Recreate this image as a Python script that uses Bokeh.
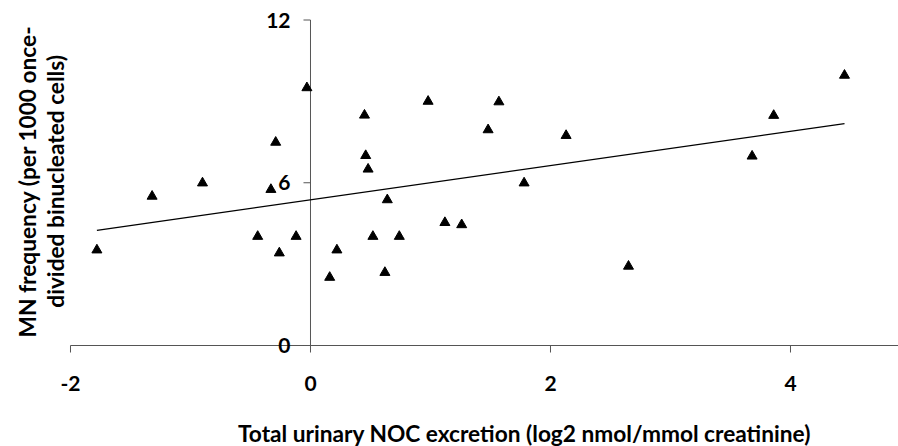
import numpy as np
from bokeh.plotting import figure
from bokeh.models import Range1d, Label
from bokeh.core.properties import value
from bokeh.embed import file_html
from bokeh.resources import INLINE

# Data
noc_log2 = [-1.78, -1.32, -0.90, -0.44, -0.33, -0.29, -0.26, -0.12, -0.03,
            0.16, 0.22, 0.45, 0.46, 0.48, 0.52, 0.62, 0.64, 0.74, 0.98,
            1.12, 1.26, 1.48, 1.57, 1.78, 2.13, 2.65, 3.68, 3.86, 4.45]
mn_freq = [3.52, 5.50, 5.99, 4.02, 5.75, 7.49, 3.41, 4.02, 9.50,
           2.51, 3.52, 8.49, 7.00, 6.50, 4.02, 2.69, 5.37, 4.02, 9.00,
           4.53, 4.45, 7.95, 8.98, 5.99, 7.74, 2.92, 6.98, 8.48, 9.96]
trend_slope = 0.631
trend_intercept = 5.37
x_ticks = [-2, 0, 2, 4]
y_ticks = [0, 6, 12]
x_tick_labels = ["-2", "0", "2", "4"]
y_tick_labels = ["0", "6", "12"]
x_title = "Total urinary NOC excretion (log2 nmol/mmol creatinine)"
y_title_lines = ["MN frequency (per 1000 once-", "divided binucleated cells)"]

# Layout (view window in data units; the axes cross at x=0, y=0)
X_VIEW = (-2.5833, 4.9)
Y_VIEW = (-3.7235, 12.719)
FONT = "Lato"
AXIS_COLOR = "#555555"
TICK_LEN = 7

p = figure(width=898, height=446, output_backend="svg", toolbar_location=None,
           x_range=Range1d(*X_VIEW), y_range=Range1d(*Y_VIEW),
           x_axis_location=None, y_axis_location=None,
           min_border_left=0, min_border_right=0, min_border_top=0,
           min_border_bottom=0)
p.grid.visible = False
p.outline_line_color = None
p.background_fill_color = "white"
p.border_fill_color = "white"

# x axis (along y=0, starting at the first tick)
p.segment(x0=[x_ticks[0]], y0=[0], x1=[X_VIEW[1]], y1=[0],
          line_color=AXIS_COLOR, line_width=1)
p.ray(x=x_ticks, y=[0] * len(x_ticks), length=TICK_LEN, length_units="screen",
      angle=-np.pi / 2, line_color=AXIS_COLOR, line_width=1)
p.text(x=x_ticks, y=[0] * len(x_ticks), text=x_tick_labels, y_offset=38,
       text_align="center", text_baseline="middle", text_font=value(FONT),
       text_font_style="bold", text_font_size="21px", text_color="black")

# y axis (along x=0)
p.segment(x0=[0], y0=[y_ticks[0]], x1=[0], y1=[y_ticks[-1]],
          line_color=AXIS_COLOR, line_width=1)
p.ray(x=[0] * len(y_ticks), y=y_ticks, length=TICK_LEN, length_units="screen",
      angle=np.pi, line_color=AXIS_COLOR, line_width=1)
p.text(x=[0] * len(y_ticks), y=y_ticks, text=y_tick_labels, x_offset=-20,
       text_align="right", text_baseline="middle", text_font=value(FONT),
       text_font_style="bold", text_font_size="21px", text_color="black")

# trendline over the data's x extent
tx = [min(noc_log2), max(noc_log2)]
ty = [trend_intercept + trend_slope * v for v in tx]
p.line(tx, ty, line_color="black", line_width=1.3)

p.scatter(noc_log2, mn_freq, marker="triangle", size=10,
          fill_color="black", line_color="black")

p.add_layout(Label(x=1.783, y=-3.244, text=x_title, text_font=FONT,
                   text_font_style="bold", text_font_size="22.7px",
                   text_align="center", text_baseline="middle",
                   text_color="black"))
y_title_x = [-2.36, -2.125]
for xx, line in zip(y_title_x, y_title_lines):
    p.add_layout(Label(x=xx, y=6.05, text=line, angle=np.pi / 2,
                       text_font=FONT, text_font_style="bold",
                       text_font_size="22.7px", text_align="center",
                       text_baseline="middle", text_color="black"))

open("out.html", "w").write(file_html(p, INLINE))
